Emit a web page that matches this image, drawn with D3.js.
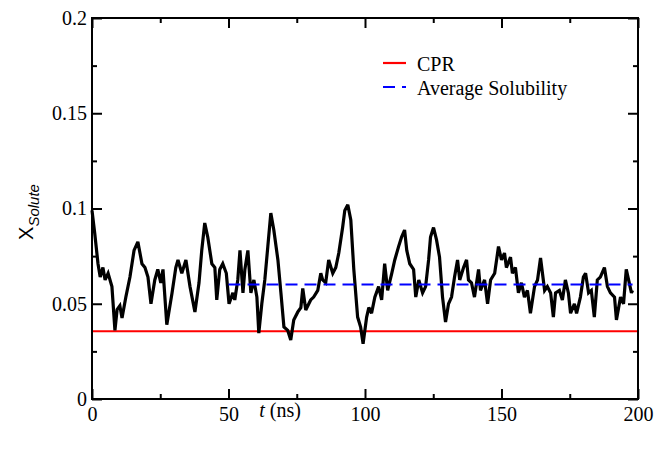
<!DOCTYPE html>
<html>
<head>
<meta charset="utf-8">
<script src="https://cdn.jsdelivr.net/npm/d3@7"></script>
<style>
  body { margin: 0; background: #fff; }
  svg { display: block; }
</style>
</head>
<body>
<div id="chart"></div>
<script>
// ---- data ----
const timeNs = [0, 1, 2.2, 3, 4, 4.8, 5.9, 7.3, 8.4, 9.2, 10.2, 11, 12.4, 13.9, 15.4, 16.8, 18.3, 19.4, 20.5, 21.6,
  23, 24.1, 25.2, 26, 27.4, 29.3, 30.7, 31.5, 32.9, 34.4, 35.9, 37.7, 39.2, 40.2, 41.3, 42.4, 43.9, 45, 45.7, 46.8,
  47.9, 49.2, 50.2, 51.6, 52.3, 53.4, 54.2, 55.3, 56, 57.1, 58.2, 59.3, 60.4, 61.1, 62.2, 63.3, 64.4, 65.5, 66.6, 68.1,
  69.2, 70.3, 71.7, 72.8, 73.9, 75.4, 76.5, 77.2, 78.3, 80.1, 81.2, 82.7, 83.8, 84.5, 85.6, 86.7, 88.2, 89.3, 90.4, 91.8,
  92.6, 93.7, 94.8, 95.9, 97.3, 98.4, 99.3, 100.6, 101.4, 102.4, 103.6, 105, 106.1, 107.2, 108.3, 109.8, 110.9, 112.3, 113.4, 114.5,
  115.3, 116.4, 117.8, 118.6, 119.7, 121.1, 122.2, 123.3, 124, 125.1, 126.2, 127.3, 128.4, 129.5, 130.6, 131.7, 132.8, 133.9, 134.7, 136.1,
  137.2, 137.9, 139, 140.1, 141.6, 142.3, 143.8, 144.9, 146, 147.5, 148.9, 150, 151.1, 151.8, 153.3, 154, 155.1, 156.2, 157.3, 158.4,
  159.5, 160.6, 162.1, 163.2, 164.3, 165.8, 166.8, 168, 169, 169.8, 171.2, 172.3, 173.4, 174.5, 175.3, 176.7, 177.5, 178.9, 180, 180.8,
  181.9, 182.9, 184, 185.1, 186.2, 187.7, 188.8, 189.9, 191.4, 192.1, 193.6, 194.7, 195.7, 196.8, 197.6, 198];
const xSolute = [0.099, 0.087, 0.071, 0.064, 0.069, 0.0625, 0.066, 0.059, 0.036, 0.047, 0.049, 0.0425, 0.0535, 0.064, 0.078, 0.0825, 0.071, 0.069, 0.064, 0.050,
  0.0625, 0.068, 0.061, 0.068, 0.039, 0.0555, 0.069, 0.073, 0.066, 0.073, 0.059, 0.0457, 0.061, 0.078, 0.0924, 0.085, 0.071, 0.069, 0.052, 0.068,
  0.071, 0.066, 0.050, 0.0557, 0.052, 0.0625, 0.078, 0.0557, 0.068, 0.078, 0.0557, 0.0625, 0.0535, 0.0346, 0.050, 0.0625, 0.080, 0.0976, 0.0887, 0.073,
  0.0557, 0.0378, 0.036, 0.031, 0.0415, 0.0457, 0.048, 0.058, 0.0467, 0.052, 0.0535, 0.057, 0.066, 0.0625, 0.061, 0.073, 0.066, 0.069, 0.0766, 0.090,
  0.099, 0.102, 0.094, 0.068, 0.043, 0.0378, 0.029, 0.043, 0.048, 0.045, 0.0535, 0.059, 0.052, 0.071, 0.057, 0.066, 0.073, 0.080, 0.085, 0.0887,
  0.078, 0.071, 0.068, 0.0535, 0.0625, 0.0557, 0.059, 0.073, 0.085, 0.090, 0.0835, 0.0745, 0.0535, 0.0404, 0.050, 0.0535, 0.064, 0.073, 0.0625, 0.069,
  0.073, 0.0625, 0.061, 0.0535, 0.068, 0.057, 0.0625, 0.050, 0.0625, 0.066, 0.080, 0.073, 0.0766, 0.069, 0.0745, 0.066, 0.069, 0.0557, 0.061, 0.0535,
  0.057, 0.045, 0.059, 0.0625, 0.074, 0.057, 0.059, 0.0557, 0.043, 0.0557, 0.057, 0.052, 0.0625, 0.0557, 0.045, 0.050, 0.045, 0.0535, 0.064, 0.066,
  0.0557, 0.057, 0.043, 0.0625, 0.064, 0.069, 0.059, 0.0557, 0.0535, 0.0415, 0.0535, 0.050, 0.068, 0.061, 0.0557, 0.057];

const cprValue = 0.0355;          // red reference line
const avgSolubility = 0.0601;     // blue dashed line
const avgStart = 50, avgEnd = 198;
const xTicks = [0, 50, 100, 150, 200];
const yTicks = [0, 0.05, 0.1, 0.15, 0.2];
const legendLabels = ["CPR", "Average Solubility"];

// ---- svg ----
const W = 658, H = 450;
const margin = {top: 18, right: 20, bottom: 51, left: 92};
const serif = "'Liberation Serif', 'Times New Roman', serif";
const sans = "'Liberation Sans', Arial, sans-serif";

const svg = d3.select("#chart").append("svg")
    .attr("width", W)
    .attr("height", H);

const x = d3.scaleLinear().domain([0, 200]).range([margin.left, W - margin.right]);
const y = d3.scaleLinear().domain([0, 0.2]).range([H - margin.bottom, margin.top]);

// ---- axes: ticks point inward on all four sides ----
const fmtY = d => d === 0 ? "0" : String(+d.toFixed(2));

function styleAxis(g) {
    g.select(".domain").remove();
    g.selectAll(".tick line").attr("stroke", "#000").attr("stroke-width", 2);
    g.selectAll(".tick text").attr("fill", "#000").style("font-family", serif).style("font-size", "20px");
}

const xMinor = d3.range(0, 201, 25).filter(v => v % 50 !== 0);
const yMinor = d3.range(0.025, 0.2, 0.05);

// bottom
svg.append("g").attr("transform", `translate(0,${y(0)})`)
    .call(d3.axisBottom(x).tickValues(xTicks).tickSize(-10).tickPadding(8).tickFormat(d3.format("d")))
    .call(styleAxis);
svg.append("g").attr("transform", `translate(0,${y(0)})`)
    .call(d3.axisBottom(x).tickValues(xMinor).tickSize(-5).tickFormat(""))
    .call(styleAxis);
// top
svg.append("g").attr("transform", `translate(0,${y(0.2)})`)
    .call(d3.axisTop(x).tickValues(xTicks).tickSize(-10).tickFormat(""))
    .call(styleAxis);
svg.append("g").attr("transform", `translate(0,${y(0.2)})`)
    .call(d3.axisTop(x).tickValues(xMinor).tickSize(-5).tickFormat(""))
    .call(styleAxis);
// left
svg.append("g").attr("transform", `translate(${x(0)},0)`)
    .call(d3.axisLeft(y).tickValues(yTicks).tickSize(-10).tickPadding(5).tickFormat(fmtY))
    .call(styleAxis);
svg.append("g").attr("transform", `translate(${x(0)},0)`)
    .call(d3.axisLeft(y).tickValues(yMinor).tickSize(-5).tickFormat(""))
    .call(styleAxis);
// right
svg.append("g").attr("transform", `translate(${x(200)},0)`)
    .call(d3.axisRight(y).tickValues(yTicks).tickSize(-10).tickFormat(""))
    .call(styleAxis);
svg.append("g").attr("transform", `translate(${x(200)},0)`)
    .call(d3.axisRight(y).tickValues(yMinor).tickSize(-5).tickFormat(""))
    .call(styleAxis);

// ---- reference lines ----
svg.append("line")
    .attr("x1", x(0)).attr("x2", x(200))
    .attr("y1", y(cprValue)).attr("y2", y(cprValue))
    .attr("stroke", "#ff0000").attr("stroke-width", 2);

// ---- time series ----
const series = timeNs.map((t, i) => ({t, v: xSolute[i]}));
svg.append("path")
    .datum(series)
    .attr("fill", "none")
    .attr("stroke", "#000")
    .attr("stroke-width", 3.2)
    .attr("stroke-linejoin", "miter")
    .attr("stroke-miterlimit", 3)
    .attr("d", d3.line().x(d => x(d.t)).y(d => y(d.v)));

svg.append("line")
    .attr("x1", x(avgStart)).attr("x2", x(avgEnd))
    .attr("y1", y(avgSolubility)).attr("y2", y(avgSolubility))
    .attr("stroke", "#0000ff").attr("stroke-width", 2.2)
    .attr("stroke-dasharray", "12,7");

// ---- frame ----
svg.append("rect")
    .attr("x", x(0)).attr("y", y(0.2))
    .attr("width", x(200) - x(0)).attr("height", y(0) - y(0.2))
    .attr("fill", "none").attr("stroke", "#000").attr("stroke-width", 2);

// ---- axis titles ----
const xt = svg.append("text")
    .attr("x", 280).attr("y", 417)
    .attr("text-anchor", "middle")
    .style("font-family", serif).style("font-size", "20px");
xt.append("tspan").style("font-style", "italic").text("t");
xt.append("tspan").text(" (ns)");

const yt = svg.append("text")
    .attr("transform", "translate(33,212) rotate(-90)")
    .attr("text-anchor", "middle")
    .style("font-family", sans).style("font-size", "20px");
yt.append("tspan").text("X");
yt.append("tspan").attr("dy", 6).style("font-style", "italic").style("font-size", "15px").text("Solute");

// ---- legend ----
const legend = svg.append("g").attr("transform", "translate(383,63)");
const rows = legend.selectAll("g").data(legendLabels).join("g")
    .attr("transform", (d, i) => `translate(0,${i * 24})`);
rows.append("line")
    .attr("x1", 0).attr("x2", 23).attr("y1", 0).attr("y2", 0)
    .attr("stroke", (d, i) => i === 0 ? "#ff0000" : "#0000ff")
    .attr("stroke-width", 2.2)
    .attr("stroke-dasharray", (d, i) => i === 0 ? null : "12,7");
rows.append("text")
    .attr("x", 34).attr("y", 8)
    .style("font-family", serif).style("font-size", "20px")
    .text(d => d);
</script>
</body>
</html>
